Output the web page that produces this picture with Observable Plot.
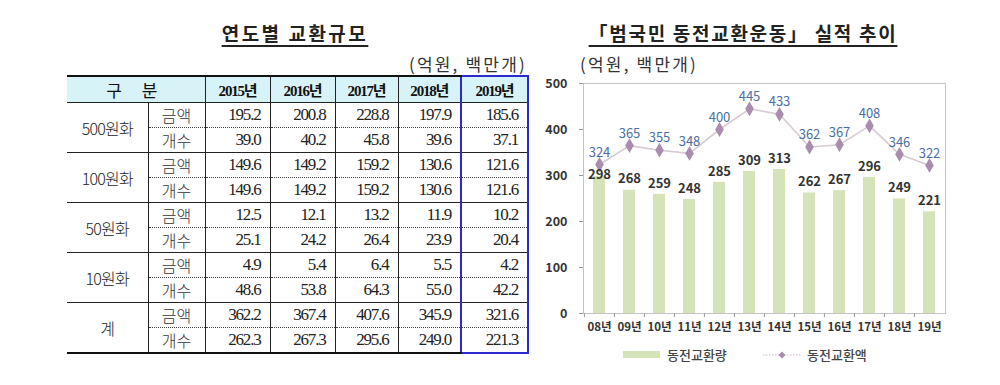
<!DOCTYPE html>
<html><head><meta charset="utf-8">
<script src="https://cdn.jsdelivr.net/npm/d3@7"></script>
<script src="https://cdn.jsdelivr.net/npm/@observablehq/plot@0.6"></script>
<style>
body{margin:0;width:1000px;height:385px;background:#fff;position:relative;overflow:hidden;font-family:"Noto Sans CJK KR",sans-serif;color:#222;}
.title{position:absolute;top:19px;font-weight:bold;font-size:19px;letter-spacing:2.5px;text-decoration:underline;text-underline-offset:4px;text-decoration-thickness:1.5px;white-space:nowrap;transform:translateX(-50%);color:#222;}
.unit{position:absolute;top:51px;font-size:17px;font-weight:400;letter-spacing:2.2px;white-space:nowrap;color:#333;}
table{position:absolute;left:67px;top:75px;width:461px;border-collapse:collapse;table-layout:fixed;}
td,th{padding:0;height:24px;border:1px solid #222;border-top:none;border-bottom:none;}
th{background:#d8f3f8;border-top:2px solid #111;border-bottom:1px solid #222;font-family:"Liberation Serif","Noto Sans CJK KR",serif;font-weight:bold;font-size:15px;letter-spacing:-1.2px;color:#111;}
th.gubun{font-family:"Noto Sans CJK KR",sans-serif;font-weight:400;font-size:17px;letter-spacing:8px;border-left:none;}
td.coin{border-left:none;font-weight:300;font-size:16px;letter-spacing:-0.8px;text-align:center;color:#222;}
td.kind{font-weight:300;font-size:16px;text-align:center;color:#333;}
td.num{font-family:"Liberation Serif",serif;font-size:17px;letter-spacing:-1.2px;text-align:right;padding-right:9px;color:#222;}
tr.first td{border-top:1px solid #222;}
tr.second td{border-top:1px dotted #444;}
tr.last td{border-bottom:2px solid #111;}
.hl{border-left:2px solid #2a2ad0 !important;border-right:2px solid #2a2ad0 !important;}
th.hl{border-top:2px solid #2a2ad0 !important;}
tr.last td.hl{border-bottom:2px solid #2a2ad0 !important;}
#chart{position:absolute;left:530px;top:75px;}
.leg{position:absolute;top:345px;font-size:13px;font-weight:500;color:#444;white-space:nowrap;}
</style></head>
<body>
<div class="title" style="left:295px">연도별 교환규모</div>
<div class="unit" style="right:473px">(억원, 백만개)</div>
<div class="title" style="left:743px;letter-spacing:1.7px">「범국민 동전교환운동」 실적 추이</div>
<div class="unit" style="left:580px">(억원, 백만개)</div>
<div id="tablewrap"></div>
<div id="chart"></div>
<div style="position:absolute;left:623px;top:351px;width:37px;height:7px;background:#d5e3b8"></div>
<div class="leg" style="left:667px">동전교환량</div>
<svg style="position:absolute;left:762px;top:349px" width="40" height="12"><line x1="1" y1="6" x2="39" y2="6" stroke="#c9b8c6" stroke-width="1.2" stroke-dasharray="1.5,1.5"/><path d="M20,2.5L23.5,6L20,9.5L16.5,6Z" fill="#a98cae"/></svg>
<div class="leg" style="left:807px">동전교환액</div>
<script>
// ---- table data ----
const tableYears = ["2015년","2016년","2017년","2018년","2019년"];
const coinTypes = ["500원화","100원화","50원화","10원화","계"];
const rowKinds = ["금액","개수"];
const amount500 = [195.2,200.8,228.8,197.9,185.6];
const count500  = [39.0,40.2,45.8,39.6,37.1];
const amount100 = [149.6,149.2,159.2,130.6,121.6];
const count100  = [149.6,149.2,159.2,130.6,121.6];
const amount50  = [12.5,12.1,13.2,11.9,10.2];
const count50   = [25.1,24.2,26.4,23.9,20.4];
const amount10  = [4.9,5.4,6.4,5.5,4.2];
const count10   = [48.6,53.8,64.3,55.0,42.2];
const amountTotal = [362.2,367.4,407.6,345.9,321.6];
const countTotal  = [262.3,267.3,295.6,249.0,221.3];

// ---- chart data ----
const chartYears = ["08년","09년","10년","11년","12년","13년","14년","15년","16년","17년","18년","19년"];
const exchangeQty = [298,268,259,248,285,309,313,262,267,296,249,221];
const exchangeAmt = [324,365,355,348,400,445,433,362,367,408,346,322];
const yTicks = [0,100,200,300,400,500];

// build table
const rows = [[amount500,count500],[amount100,count100],[amount50,count50],[amount10,count10],[amountTotal,countTotal]];
let html = '<table><colgroup><col style="width:81px"><col style="width:57px"><col style="width:65px"><col style="width:65px"><col style="width:63px"><col style="width:63px"><col style="width:67px"></colgroup>';
html += '<tr><th class="gubun" colspan="2">구 분</th>' + tableYears.map((y,i)=>`<th class="${i===tableYears.length-1?'hl':''}">${y}</th>`).join('') + '</tr>';
rows.forEach((pair,ci)=>{
  pair.forEach((vals,ri)=>{
    const cls = (ri===0?'first':'second') + (ci===rows.length-1 && ri===1 ? ' last' : '');
    html += `<tr class="${cls}">`;
    if (ri===0) html += `<td class="coin" rowspan="2" style="border-bottom:${ci===rows.length-1?'2px solid #111':'none'}">${coinTypes[ci]}</td>`;
    html += `<td class="kind">${rowKinds[ri]}</td>`;
    html += vals.map((v,i)=>`<td class="num${i===vals.length-1?' hl':''}">${v.toFixed(1)}</td>`).join('');
    html += '</tr>';
  });
});
html += '</table>';
document.getElementById('tablewrap').innerHTML = html;

// build chart
const data = chartYears.map((y,i)=>({year:y, qty:exchangeQty[i], amt:exchangeAmt[i]}));
const W = 430, ML = 53, MR = 15;
const step = (W - ML - MR) / chartYears.length;
const chart = Plot.plot({
  width: W, height: 270, marginLeft: ML, marginRight: MR, marginTop: 8, marginBottom: 32,
  style: {fontFamily: '"Noto Sans CJK KR", sans-serif', fontSize: "12px", background: "transparent", overflow: "visible", color: "#333"},
  x: {domain: chartYears, paddingInner: 0.6, paddingOuter: 0.3, label: null},
  y: {domain: [0, 500], label: null},
  marks: [
    Plot.barY(data, {x: "year", y: "qty", fill: "#d5e3b8"}),
    Plot.frame({stroke: "#c4c4c4"}),
    Plot.axisY({ticks: yTicks, tickSize: 4, tickPadding: 12, stroke: "#999", fill: "#333", fontWeight: "bold", fontSize: 12.5, label: null}),
    Plot.axisX({tickSize: 0, tickPadding: 9, fill: "#333", fontWeight: "bold", fontSize: 11.5, label: null}),
    Plot.axisX({tickSize: 4, tickFormat: () => "", dx: -step / 2, stroke: "#999", label: null}),
    Plot.line(data, {x: "year", y: "amt", stroke: "#d8cad4", strokeWidth: 1.6}),
    Plot.dot(data, {x: "year", y: "amt", symbol: "diamond", r: 4.5, fill: "#a98cae", stroke: "none"}),
    Plot.text(data, {x: "year", y: "amt", text: "amt", dy: -12, fill: "#4a6ea6", fontSize: 13}),
    Plot.text(data, {filter: (d, i) => i > 0, x: "year", y: "qty", text: "qty", dy: -11, fill: "#333", fontSize: 13, fontWeight: "bold"}),
    Plot.text(data, {filter: (d, i) => i === 0, x: "year", y: "qty", text: "qty", dy: -2, fill: "#333", fontSize: 13, fontWeight: "bold"})
  ]
});
document.getElementById('chart').appendChild(chart);
</script>
</body></html>
